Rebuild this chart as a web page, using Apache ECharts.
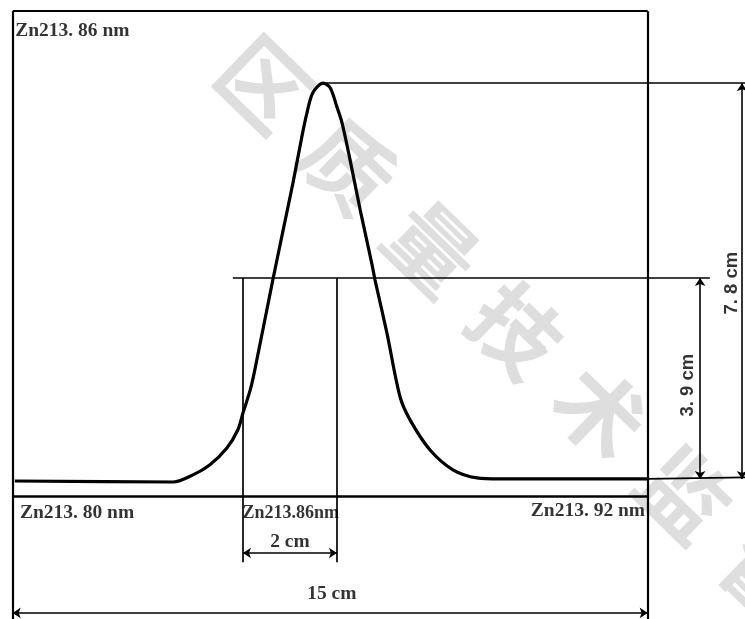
<!DOCTYPE html>
<html>
<head>
<meta charset="utf-8">
<script src="https://cdn.jsdelivr.net/npm/echarts@6/dist/echarts.min.js"></script>
<style>html,body{margin:0;padding:0;background:#fff}#c{width:745px;height:619px}</style>
</head>
<body>
<div id="c"></div>
<script>
// Units: centimetres on the drawing (x from left frame, y from peak baseline)
const X_MIN = -0.3, X_MAX = 17.3, Y_MIN = -2.76, Y_MAX = 9.44;

// Emission peak profile
const curveX = [0.05, 3.79, 4.26, 4.66, 5.06, 5.32, 5.44, 5.61, 5.72, 6.13, 6.39, 6.62, 6.83, 6.95, 7.09, 7.33, 7.50, 7.66, 7.78, 7.97, 8.21, 8.49, 8.56, 8.84, 9.15, 9.39, 9.86, 10.40, 10.97, 11.51, 15.0];
const curveY = [-0.04, -0.06, 0.08, 0.28, 0.61, 0.97, 1.30, 1.75, 2.15, 3.86, 4.91, 5.83, 6.74, 7.21, 7.61, 7.80, 7.71, 7.33, 7.02, 6.29, 5.30, 4.22, 3.92, 2.88, 1.62, 1.16, 0.57, 0.18, 0.02, 0.0, 0.0];

// Key values
const peakHeight = 7.8;
const halfHeight = 3.96;
const frameWidth = 15;
const halfLeft = 5.44, halfRight = 7.66;

// Frame segments [x1, y1, x2, y2]
const frameSegs = [[0, Y_MIN, 0, 9.22], [0, 9.22, frameWidth, 9.22], [frameWidth, 9.22, frameWidth, Y_MIN]];
const axisSegs = [[0, -0.335, frameWidth, -0.335]];
// Guide / extension lines
const guideSegs = [
  [frameWidth, 0, X_MAX, 0.03],
  [7.38, peakHeight, X_MAX, peakHeight],
  [5.20, halfHeight, 16.47, halfHeight],
  [halfLeft, halfHeight, halfLeft, -1.64],
  [halfRight, halfHeight, halfRight, -1.64]
];
// Dimension arrows
const dimSegs = [
  [halfLeft, -1.46, halfRight, -1.46],
  [0, -2.64, frameWidth, -2.64],
  [16.24, halfHeight, 16.24, 0],
  [17.23, peakHeight, 17.23, 0]
];

// Text labels
const labelTexts = ['Zn213. 86 nm', 'Zn213. 80 nm', 'Zn213.86nm', 'Zn213. 92 nm', '2 cm', '15 cm', '3. 9 cm', '7. 8 cm'];
const labelX = [0.06, 0.17, 6.57, 14.94, 6.55, 7.54, 15.95, 16.99];
const labelY = [8.83, -0.67, -0.67, -0.63, -1.24, -2.27, 1.85, 3.86];
const labelAlign = ['left', 'left', 'center', 'right', 'center', 'center', 'center', 'center'];
const labelRotate = [0, 0, 0, 0, 0, 0, 90, 90];
const labelSize = [19.5, 19.5, 18, 19.5, 19.5, 19.5, 18.5, 18.5];

// Watermark characters
const wmChars = ['区', '质', '量', '技', '术', '监', '督'];

const toMark = segs => segs.map(s => [{coord: [s[0], s[1]]}, {coord: [s[2], s[3]]}]);

function lineSeries(name, segs, width, arrows) {
  return {
    name: name, type: 'line', data: [], silent: true, animation: false,
    markLine: {
      silent: true, animation: false,
      symbol: arrows ? ['arrow', 'arrow'] : ['none', 'none'],
      symbolSize: arrows ? 8 : 0,
      label: {show: false},
      emphasis: {disabled: true},
      lineStyle: {color: '#000', width: width, type: 'solid'},
      data: toMark(segs)
    }
  };
}

const chart = echarts.init(document.getElementById('c'), null, {renderer: 'canvas'});

const wmStartX = 264, wmStartY = 84, wmStepX = 84, wmStepY = 82;
const graphics = wmChars.map((ch, i) => ({
  type: 'text', z: -10, silent: true,
  x: wmStartX + i * wmStepX, y: wmStartY + i * wmStepY, rotation: -0.77,
  style: {text: ch, font: 'bold 88px "Noto Sans CJK SC"', fill: '#dedede', align: 'center', verticalAlign: 'middle'}
}));

chart.setOption({
  backgroundColor: '#fff',
  animation: false,
  graphic: graphics,
  grid: {left: 0, right: 0, top: 0, bottom: 0},
  xAxis: {type: 'value', min: X_MIN, max: X_MAX, show: false},
  yAxis: {type: 'value', min: Y_MIN, max: Y_MAX, show: false},
  series: [
    {
      name: 'peak', type: 'line', smooth: 0.3, symbol: 'none', silent: true,
      lineStyle: {color: '#000', width: 3.2}, z: 5,
      data: curveX.map((x, i) => [x, curveY[i]])
    },
    lineSeries('frame', frameSegs, 2.2, false),
    lineSeries('axis', axisSegs, 2.6, false),
    lineSeries('guides', guideSegs, 1.7, false),
    lineSeries('dims', dimSegs, 1.6, true),
    {
      name: 'labels', type: 'scatter', symbolSize: 0, silent: true, z: 6,
      data: labelTexts.map((t, i) => ({
        value: [labelX[i], labelY[i]],
        label: {
          show: true, position: 'inside', formatter: t, align: labelAlign[i], verticalAlign: 'middle',
          rotate: labelRotate[i], color: '#000',
          fontFamily: labelRotate[i] ? '"Liberation Sans"' : '"Liberation Serif"',
          fontWeight: 'bold', fontSize: labelSize[i]
        }
      }))
    }
  ]
});
</script>
</body>
</html>
